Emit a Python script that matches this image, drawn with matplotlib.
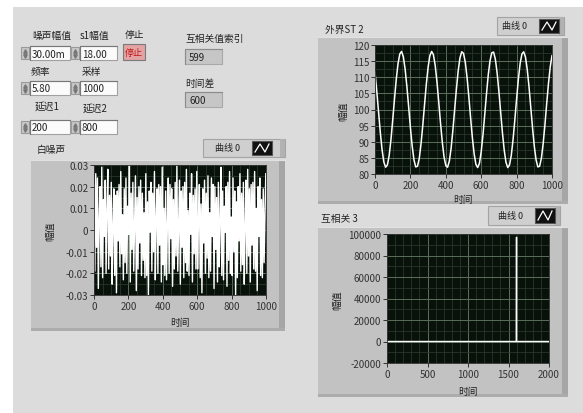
import numpy as np
import matplotlib
matplotlib.use("Agg")
from matplotlib import pyplot as plt
from matplotlib.patches import Rectangle
from matplotlib.ticker import MultipleLocator, FuncFormatter

plt.rcParams['font.family'] = ['Noto Sans CJK SC', 'DejaVu Sans']

W, H = 583, 414

# front panel values
noise_amp = "30.00m"
sine_amp = "18.00"
freq = "5.80"
samples = "1000"
delay1 = "200"
delay2 = "800"
xcorr_index = "599"
time_diff = "600"

# white noise, in thousandths
noise_milli = [
    21, -19, 26, -8, 24, -27, 5, 20, -17, 29, -22, 14, -3, 23, -20, 9, 28, -18, 16, -12,
    22, -25, 2, 19, -21, 16, -29, 18, -5, 21, -17, 27, -11, 7, -23, 19, -15, 24, -20, 11,
    -2, 30, -24, 17, -9, 22, -19, 4, 25, -28, 15, -18, 20, -6, 23, -21, 17, -14, 8, -22,
    26, -21, 13, -30, 18, -1, 22, -19, 17, -10, 27, -23, 6, 19, -20, 21, -7, 20, -24, 29,
    -16, 10, -21, 18, -23, 3, 24, -20, 21, -4, 19, -26, 14, -18, 22, -12, 30, -19, 1, 23,
    -25, 18, -8, 20, -22, 22, -15, 28, -19, 9, -21, 17, -2, 26, -24, 16, -11, 19, -18, 27,
    -18, 5, 21, -22, 12, -29, 19, -6, 23, -20, 17, -13, 25, -22, 8, -19, 24, -3, 21, -27,
    20, -9, 15, -24, 22, -17, 4, 29, -21, 18, -23, 11, -1, 20, -26, 22, -14, 27, -20, 6,
    -21, 24, -10, 18, -30, 13, -22, 20, -5, 26, -19, 17, -16, 22, -25, 2, 23, -20, 28, -12,
    19, -24, 21, -7, 22, -18, 27, -19, 10, -28, 20, -3, 24, -21, 14, -22, 19, -15, 7, 26,
]

# sine signal, one value every 10 samples
sine_vals = [
    111.5, 105.7, 99.3, 92.9, 87.5, 83.7, 82.1, 82.8, 85.7, 90.6,
    96.7, 103.2, 109.3, 114.2, 117.2, 118.0, 116.4, 112.6, 107.2, 100.9,
    94.4, 88.7, 84.4, 82.2, 82.4, 84.8, 89.3, 95.1, 101.6, 107.9,
    113.1, 116.7, 118.0, 117.0, 113.7, 108.6, 102.4, 95.9, 90.0, 85.3,
    82.6, 82.1, 84.0, 88.0, 93.6, 100.0, 106.4, 112.0, 116.0, 117.9,
    117.4, 114.7, 110.0, 104.0, 97.5, 91.3, 86.3, 83.0, 82.0, 83.3,
    86.9, 92.1, 98.4, 104.9, 110.8, 115.2, 117.6, 117.8, 115.6, 111.3,
    105.6, 99.1, 92.8, 87.4, 83.6, 82.0, 82.8, 85.8, 90.7, 96.8,
    103.3, 109.4, 114.3, 117.2, 117.9, 116.3, 112.5, 107.1, 100.7, 94.3,
    88.6, 84.4, 82.2, 82.4, 84.9, 89.4, 95.2, 101.8, 108.0, 113.2,
    116.7,
]

# cross correlation: flat with one peak
xcorr_x = [0, 1597, 1598, 1599, 1600, 1998]
xcorr_y = [0, 0, 42000, 97000, 0, 0]

fig = plt.figure(figsize=(W / 100, H / 100), dpi=100)
fig.patch.set_facecolor('#dcdcdc')

bg = fig.add_axes([0, 0, 1, 1], zorder=0)
bg.set_xlim(0, W)
bg.set_ylim(H, 0)
bg.axis('off')


def rect(x0, y0, x1, y1):
    return [x0 / W, 1 - y1 / H, (x1 - x0) / W, (y1 - y0) / H]


def label(x, y, s, size=7, ha='left', **kw):
    bg.text(x, y, s, fontsize=size, color='#222222', va='center', ha=ha, **kw)


def box(x0, y0, x1, y1, fc, ec):
    bg.add_patch(Rectangle((x0, y0), x1 - x0, y1 - y0, fc=fc, ec=ec, lw=0.8))


def control(x0, y0, x1, y1, text):
    # spinner
    box(x0 - 9, y0 + 1, x0 - 1, y1 - 1, '#c8c8c8', '#9a9a9a')
    bg.plot([x0 - 5], [y0 + 4.5], marker='^', ms=2.5, color='#777777')
    bg.plot([x0 - 5], [y1 - 4.5], marker='v', ms=2.5, color='#777777')
    box(x0, y0, x1, y1, '#fbfbfb', '#a0a0a0')
    bg.plot([x0, x0, x1], [y1, y0, y0], color='#777777', lw=0.8)
    label(x0 + 2, (y0 + y1) / 2 + 0.5, text)


def indicator(x0, y0, x1, y1, text):
    box(x0, y0, x1, y1, '#c6c6c6', '#a8a8a8')
    bg.plot([x0, x0, x1], [y1, y0, y0], color='#8c8c8c', lw=0.8)
    label(x0 + 4, (y0 + y1) / 2 + 0.5, text)


def frame(x0, y0, x1, y1):
    box(x0, y0, x1, y1, '#c2c2c2', 'none')
    bg.add_patch(Rectangle((x1 - 6, y0), 6, y1 - y0, fc='#a6a6a6', ec='none'))
    bg.add_patch(Rectangle((x0, y1 - 3), x1 - x0, 3, fc='#acacac', ec='none'))
    bg.plot([x0, x1], [y0, y0], color='#e2e2e2', lw=0.8)


def legend(x0, y0, x1, y1, ix0):
    box(x0, y0, x1, y1, '#cfcfcf', '#a4a4a4')
    bg.add_patch(Rectangle((x1 - 5, y0), 5, y1 - y0, fc='#b2b2b2', ec='none'))
    label(ix0 - 37, (y0 + y1) / 2, '曲线 0', size=6.5)
    ix1 = ix0 + 20
    box(ix0, y0 + 2, ix1, y1 - 2, '#111111', '#555555')
    zx = [ix0 + 3, ix0 + 8, ix0 + 13, ix0 + 17]
    zy = [y1 - 5, y0 + 5, y1 - 5, y0 + 5]
    bg.plot(zx, zy, color='white', lw=0.9)


def graph(r, xlim, ylim, xmaj, xmin, ymaj, ymin, fmt=None):
    ax = fig.add_axes(rect(*r), zorder=2)
    ax.set_facecolor('#08120a')
    ax.set_xlim(*xlim)
    ax.set_ylim(*ylim)
    ax.xaxis.set_major_locator(MultipleLocator(xmaj))
    ax.xaxis.set_minor_locator(MultipleLocator(xmin))
    ax.yaxis.set_major_locator(MultipleLocator(ymaj))
    ax.yaxis.set_minor_locator(MultipleLocator(ymin))
    ax.grid(which='major', color='#5a6e5a', lw=0.7)
    ax.grid(which='minor', color='#2c3e2e', lw=0.5)
    ax.tick_params(which='major', direction='out', length=3, width=0.7,
                   color='#333333', labelsize=7, labelcolor='#333333', pad=1)
    ax.tick_params(which='minor', length=0)
    for s in ax.spines.values():
        s.set_color('#2a2a2a')
        s.set_linewidth(0.6)
    if fmt is not None:
        ax.yaxis.set_major_formatter(FuncFormatter(fmt))
    return ax


# white border of the screenshot
bg.add_patch(Rectangle((0, 0), 13, H, fc='white', ec='none'))
bg.add_patch(Rectangle((0, 0), W, 8, fc='white', ec='none'))

# controls
label(32, 36, '噪声幅值')
control(30, 47, 70, 61, noise_amp)
label(80, 36, 's1幅值')
control(80, 47, 117, 61, sine_amp)
label(125, 35, '停止')
box(123, 45, 145, 61, '#e3a3a3', '#7a7a7a')
bg.text(134, 53.5, '停止', fontsize=6.5, color='#c01818', ha='center', va='center')

label(31, 72, '频率')
control(30, 82, 70, 96, freq)
label(82, 72, '采样')
control(80, 82, 117, 96, samples)
label(35, 107, '延迟1')
control(30, 121, 70, 135, delay1)
label(83, 109, '延迟2')
control(80, 121, 117, 135, delay2)

label(185, 39, '互相关值索引')
indicator(185, 50, 222, 65, xcorr_index)
label(185, 84, '时间差')
indicator(185, 93, 222, 108, time_diff)

# white noise graph
label(37, 150, '白噪声')
legend(203, 140, 285, 158, 252)
frame(31, 161, 285, 332)
ax1 = graph((94, 166, 266, 296), (0, 1000), (-0.03, 0.03), 200, 50, 0.01, 0.005,
            fmt=lambda v, p: '0' if abs(v) < 1e-9 else f'{v:.2f}')
nx = np.linspace(0, 999, len(noise_milli))
ax1.plot(nx, np.array(noise_milli) / 1000.0, color='white', lw=1.0)
label(50, 231, '幅值', rotation=90, ha='center')
label(180, 323, '时间', ha='center')

# sine graph
label(325, 30, '外界ST 2')
legend(497, 18, 564, 36, 539)
frame(318, 38, 568, 205)
ax2 = graph((375, 46, 552, 175), (0, 1000), (80, 120), 200, 50, 5, 2.5)
sx = np.arange(len(sine_vals)) * 10
ax2.plot(sx, sine_vals, color='white', lw=1.1)
label(343, 111, '幅值', rotation=90, ha='center')
label(463, 200, '时间', ha='center')

# cross correlation graph
label(321, 219, '互相关 3')
legend(488, 207, 560, 226, 535)
frame(318, 228, 568, 398)
ax3 = graph((387, 235, 549, 364), (0, 2000), (-20000, 100000), 500, 100, 20000, 10000,
            fmt=lambda v, p: f'{v:.0f}')
ax3.plot(xcorr_x, xcorr_y, color='white', lw=1.0)
label(337, 300, '幅值', rotation=90, ha='center')
label(468, 392, '时间', ha='center')

fig.savefig('out.png', dpi=100, facecolor=fig.get_facecolor())
